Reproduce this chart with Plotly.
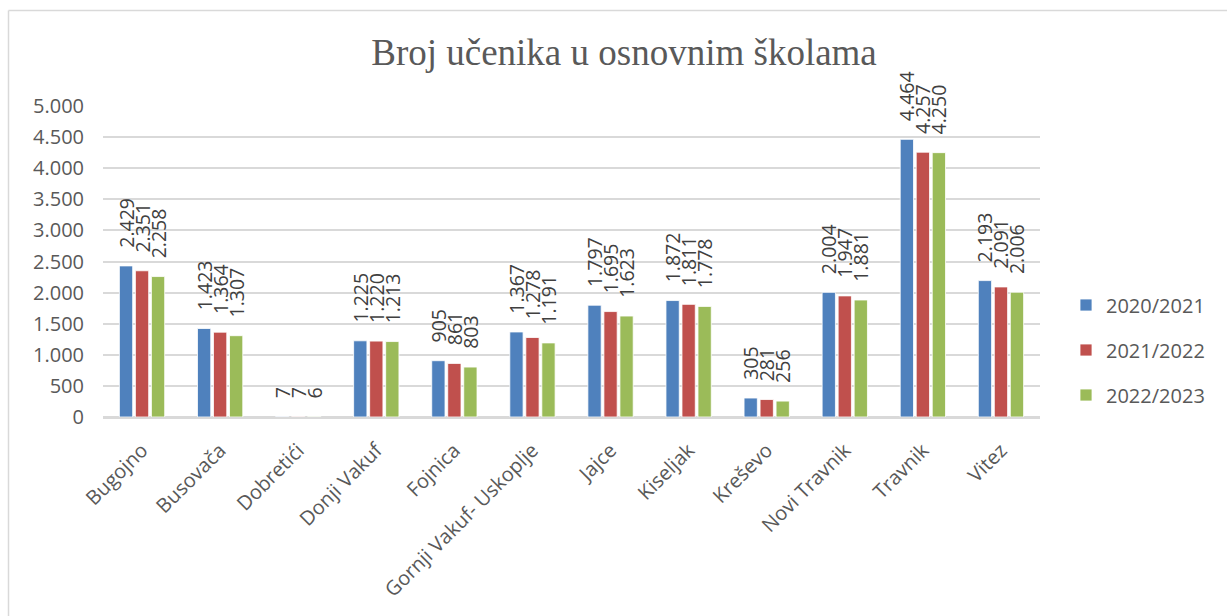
import plotly.graph_objects as go

categories = ["Bugojno", "Busovača", "Dobretići", "Donji Vakuf", "Fojnica",
              "Gornji Vakuf- Uskoplje", "Jajce", "Kiseljak", "Kreševo",
              "Novi Travnik", "Travnik", "Vitez"]
y2020 = [2429, 1423, 7, 1225, 905, 1367, 1797, 1872, 305, 2004, 4464, 2193]
y2021 = [2351, 1364, 7, 1220, 861, 1278, 1695, 1811, 281, 1947, 4257, 2091]
y2022 = [2258, 1307, 6, 1213, 803, 1191, 1623, 1778, 256, 1881, 4250, 2006]
series_names = ["2020/2021", "2021/2022", "2022/2023"]
colors = ["#4F81BD", "#C0504D", "#9BBB59"]
y_ticks = [0, 500, 1000, 1500, 2000, 2500, 3000, 3500, 4000, 4500, 5000]

FONT = "Open Sans"
W, H = 1227, 616
L, R, T, B = 103, 187, 106, 199
pw, ph = W - L - R, H - T - B

fig = go.Figure()
for name, vals, col in zip(series_names, [y2020, y2021, y2022], colors):
    fig.add_trace(go.Bar(
        x=categories, y=vals, name=name, legendgroup=name,
        marker=dict(color=col, line=dict(color="white", width=0.8)),
        texttemplate="\u00a0\u00a0\u00a0%{y:,d}",
        textposition="outside", textangle=-90,
        textfont=dict(family=FONT, size=19.5, color="#404040"),
        constraintext="none", cliponaxis=False,
    ))

def px_x(px):
    return (px - L) / pw

def px_y(py):
    return (H - B - py) / ph

fig.update_layout(
    width=W, height=H,
    margin=dict(l=L, r=R, t=T, b=B, autoexpand=False),
    paper_bgcolor="white", plot_bgcolor="white",
    separators=",.",
    barmode="group", bargap=0.385, bargroupgap=0.17,
    title=dict(text="Broj učenika u osnovnim školama",
               font=dict(family="Liberation Serif", size=37, color="#595959"),
               x=624 / W, xref="container", xanchor="center",
               y=1 - 52 / H, yref="container", yanchor="middle"),
    font=dict(family=FONT, color="#595959"),
    legend=dict(font=dict(family=FONT, size=20, color="#595959"),
                xref="container", x=1066 / W, xanchor="left",
                yref="container", y=1 - 350 / H, yanchor="middle",
                tracegroupgap=16, traceorder="grouped",
                bgcolor="rgba(0,0,0,0)"),
    xaxis=dict(tickangle=-45, tickfont=dict(family=FONT, size=20, color="#595959"),
               showline=True, linecolor="#D9D9D9", linewidth=1.5,
               showgrid=False, ticks="", ticklabelstandoff=12),
    yaxis=dict(range=[0, 5000], tickvals=y_ticks, tickformat=",d",
               tickfont=dict(family=FONT, size=20, color="#595959"),
               showgrid=True, gridcolor="#D9D9D9", gridwidth=1.5,
               zeroline=True, zerolinecolor="#D9D9D9", zerolinewidth=1.5,
               showline=False, ticks="", ticklabelstandoff=18),
    shapes=[
        dict(type="line", xref="paper", yref="paper",
             x0=px_x(8.5), x1=px_x(8.5), y0=px_y(10.5), y1=px_y(H + 5),
             line=dict(color="#D9D9D9", width=1.5)),
        dict(type="line", xref="paper", yref="paper",
             x0=px_x(8.5), x1=px_x(W + 5), y0=px_y(10.5), y1=px_y(10.5),
             line=dict(color="#D9D9D9", width=1.5)),
    ],
    showlegend=True,
)

fig.write_html("out.html", config={"displayModeBar": False},
               post_script="document.body.style.margin='0';document.body.style.overflow='hidden';")
